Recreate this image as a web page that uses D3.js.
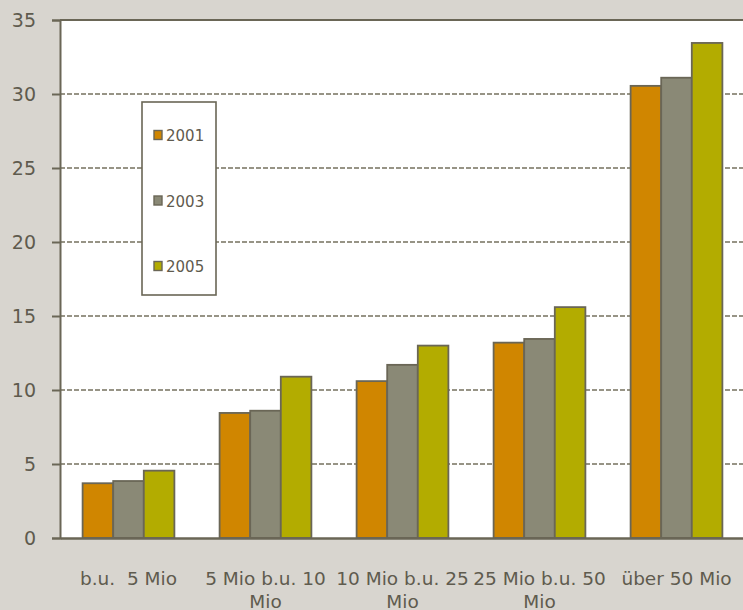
<!DOCTYPE html>
<html>
<head>
<meta charset="utf-8">
<script src="https://cdn.jsdelivr.net/npm/d3@7/dist/d3.min.js"></script>
<style>
  html, body { margin: 0; padding: 0; background: #d8d5cf; }
  svg { display: block; }
</style>
</head>
<body>
<svg id="chart" width="743" height="610"></svg>
<script>
// Size classes (turnover bands)
const categories = ["b.u.  5 Mio", "5 Mio b.u. 10 Mio", "10 Mio b.u. 25 Mio", "25 Mio b.u. 50 Mio", "über 50 Mio"];
const years = ["2001", "2003", "2005"];
const values2001 = [3.7, 8.45, 10.6, 13.2, 30.55];
const values2003 = [3.85, 8.6, 11.7, 13.45, 31.1];
const values2005 = [4.55, 10.9, 13.0, 15.6, 33.45];
const yTicks = [0, 5, 10, 15, 20, 25, 30, 35];
const colors = ["#d08600", "#8a8976", "#b3ac00"];

const series = [values2001, values2003, values2005];
const data = categories.map((c, i) => ({ cat: c, vals: series.map(s => s[i]) }));

const FONT = "'DejaVu Sans', Verdana, sans-serif";
const TEXT = "#5f5b4e";
const ink = "#6a6656";

const svg = d3.select("#chart");
const m = { left: 60, top: 20, right: -2, bottom: 72 };
const W = 743 - m.left - m.right;
const H = 610 - m.top - m.bottom;

const g = svg.append("g").attr("transform", `translate(${m.left},${m.top})`);

// plot area
g.append("rect").attr("width", W).attr("height", H).attr("fill", "#fff");

const x = d3.scaleBand().domain(categories).range([0, W]).paddingInner(0.33).paddingOuter(0.165);
const xs = d3.scaleBand().domain(years).range([0, x.bandwidth()]);
const y = d3.scaleLinear().domain([0, 35]).range([H, 0]);

// dashed gridlines
g.append("g").selectAll("line").data(yTicks.filter(t => t > 0 && t < 35)).join("line")
  .attr("x1", 0).attr("x2", W)
  .attr("y1", d => y(d)).attr("y2", d => y(d))
  .attr("stroke", "#75725f").attr("stroke-width", 1.5).attr("stroke-dasharray", "5,2");

// bars
const groups = g.append("g").selectAll("g").data(data).join("g")
  .attr("transform", d => `translate(${x(d.cat)},0)`);
groups.selectAll("rect").data(d => d.vals.map((v, j) => ({ v, j }))).join("rect")
  .attr("x", d => xs(years[d.j]))
  .attr("width", xs.bandwidth())
  .attr("y", d => y(d.v))
  .attr("height", d => H - y(d.v))
  .attr("fill", d => colors[d.j])
  .attr("stroke", ink).attr("stroke-width", 1.8);

// y axis
const yAxis = d3.axisLeft(y).tickValues(yTicks).tickSize(8).tickPadding(16);
const ya = g.append("g").call(yAxis);
ya.select(".domain").attr("stroke", ink).attr("stroke-width", 2);
ya.selectAll(".tick line").attr("stroke", ink).attr("stroke-width", 2);
ya.selectAll(".tick text").style("font-size", "19px").style("font-family", FONT).style("fill", TEXT);

// top border
g.append("line").attr("x1", 0).attr("x2", W).attr("y1", 0).attr("y2", 0)
  .attr("stroke", ink).attr("stroke-width", 2);

// x axis
const xAxis = d3.axisBottom(x).tickSize(0).tickPadding(0);
const xa = g.append("g").attr("transform", `translate(0,${H})`).call(xAxis);
xa.select(".domain").attr("stroke", ink).attr("stroke-width", 2.5);
xa.selectAll(".tick text").remove();

// wrapped category labels
const LABEL_SIZE = 18.5;
function wrapLines(text, maxW) {
  const words = text.split(/ (?! )/);
  const probe = svg.append("text").style("font-size", LABEL_SIZE + "px").style("font-family", FONT)
    .attr("xml:space", "preserve").style("white-space", "pre");
  const lines = [];
  let cur = "";
  words.forEach(w => {
    const t = cur ? cur + " " + w : w;
    probe.text(t);
    if (cur && probe.node().getComputedTextLength() > maxW) { lines.push(cur); cur = w; }
    else cur = t;
  });
  if (cur) lines.push(cur);
  probe.remove();
  return lines;
}
categories.forEach(c => {
  const lines = wrapLines(c, 145);
  const cx = x(c) + x.bandwidth() / 2;
  const t = g.append("text").attr("text-anchor", "middle")
    .style("font-size", LABEL_SIZE + "px").style("font-family", FONT).style("fill", TEXT)
    .attr("x", cx).attr("y", H + 47)
    .style("white-space", "pre").attr("xml:space", "preserve");
  lines.forEach((l, i) => t.append("tspan").attr("x", cx)
    .attr("dy", i === 0 ? 0 : 23).text(l));
});

// legend
const lg = svg.append("g").attr("transform", "translate(142,102)");
lg.append("rect").attr("width", 74).attr("height", 193).attr("fill", "#fff")
  .attr("stroke", ink).attr("stroke-width", 1.6);
years.forEach((yr, i) => {
  const cy = 33 + i * 65.5;
  lg.append("rect").attr("x", 12).attr("y", cy - 4.5).attr("width", 8).attr("height", 9)
    .attr("fill", colors[i]).attr("stroke", ink).attr("stroke-width", 1.4);
  lg.append("text").attr("x", 24).attr("y", cy + 6)
    .style("font-size", "15px").style("font-family", FONT).style("fill", TEXT).text(yr);
});
</script>
</body>
</html>
